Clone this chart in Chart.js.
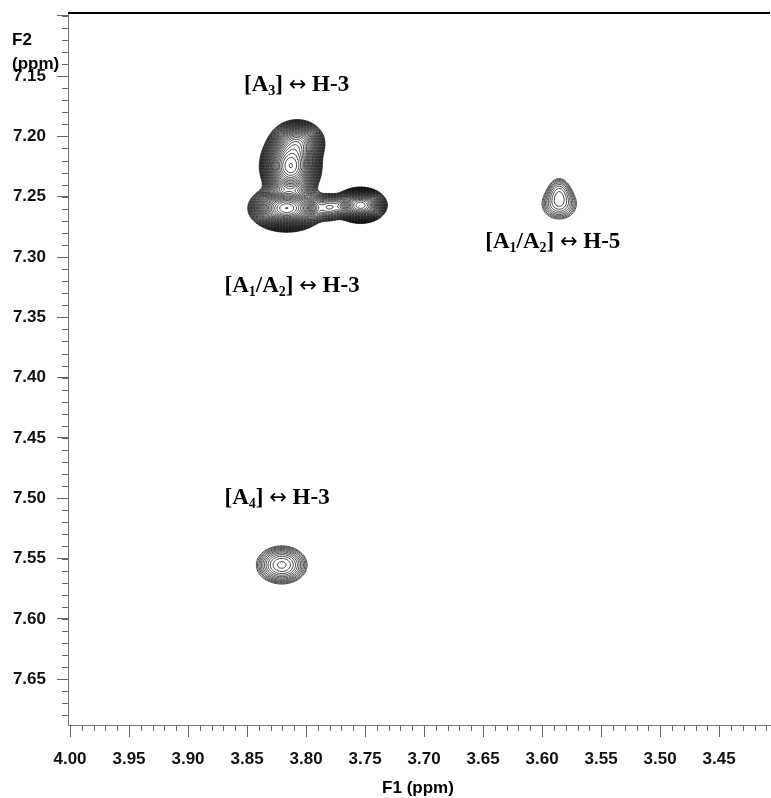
<!DOCTYPE html>
<html>
<head>
<meta charset="utf-8">
<script src="https://cdn.jsdelivr.net/npm/chart.js@4.4.1/dist/chart.umd.min.js"></script>
<style>
  html, body { margin: 0; padding: 0; background: #fff; }
  #wrap { width: 771px; height: 798px; position: relative; }
</style>
</head>
<body>
<div id="wrap"><canvas id="noesy" width="771" height="798"></canvas></div>
<script>
// axis ranges (ppm), both axes run backwards like the spectrometer plot
const f1Range = [3.4069, 4.0017];
const f2Range = [7.0977, 7.688];

// labelled (major) ticks
const f1MajorTicks = [4.00, 3.95, 3.90, 3.85, 3.80, 3.75, 3.70, 3.65, 3.60, 3.55, 3.50, 3.45];
const f2MajorTicks = [7.10, 7.15, 7.20, 7.25, 7.30, 7.35, 7.40, 7.45, 7.50, 7.55, 7.60, 7.65];
const minorStep = 0.01;

// cross peaks (centre in ppm, height, widths in ppm)
const peakF1      = [3.8130, 3.8071, 3.8164, 3.7538, 3.7800, 3.5855, 3.5855, 3.8206];
const peakF2      = [7.2247, 7.2049, 7.2596, 7.2571, 7.2588, 7.2563, 7.2430, 7.5553];
const peakHeight  = [1.00,   0.40,   1.00,   0.60,   0.10,   0.05,   0.03,   0.08];
const peakWidthF1 = [0.0095, 0.0093, 0.0118, 0.0087, 0.0068, 0.0106, 0.0065, 0.0129];
const peakWidthF2 = [0.0108, 0.0076, 0.0071, 0.0058, 0.0060, 0.0090, 0.0075, 0.0095];

// contour levels: lowest level and ratio between neighbours
const contourBase = 0.02;
const contourRatio = 1.13;
const contourCount = 36;

// annotations ("_n" = subscript), anchored in ppm (centre, baseline)
const noteText = ['[A_3] \u2194 H-3', '[A_1/A_2] \u2194 H-3', '[A_1/A_2] \u2194 H-5', '[A_4] \u2194 H-3'];
const noteF1 = [3.808, 3.8118, 3.5909, 3.8245];
const noteF2 = [7.1625, 7.3294, 7.2929, 7.5050];

const sansBold = 'bold 17px "Liberation Sans", Arial, sans-serif';

function levelList() {
    const out = [];
    let l = contourBase;
    for (let k = 0; k < contourCount; k++) { out.push(l); l *= contourRatio; }
    return out;
}

function drawContours(chart) {
    const { ctx, chartArea: a, scales } = chart;
    const xs = scales.x, ys = scales.y;
    const step = 1.5;
    const nx = Math.ceil((a.right - a.left) / step) + 1;
    const ny = Math.ceil((a.bottom - a.top) / step) + 1;
    const vx = new Float64Array(nx), vy = new Float64Array(ny);
    for (let i = 0; i < nx; i++) vx[i] = xs.getValueForPixel(a.left + i * step);
    for (let j = 0; j < ny; j++) vy[j] = ys.getValueForPixel(a.top + j * step);

    const f = new Float64Array(nx * ny);
    for (let j = 0; j < ny; j++) {
        for (let i = 0; i < nx; i++) {
            let s = 0;
            for (let p = 0; p < peakF1.length; p++) {
                const dx = (vx[i] - peakF1[p]) / peakWidthF1[p];
                const dy = (vy[j] - peakF2[p]) / peakWidthF2[p];
                const e = 0.5 * (dx * dx + dy * dy);
                if (e < 30) s += peakHeight[p] * Math.exp(-e);
            }
            f[j * nx + i] = s;
        }
    }

    ctx.save();
    ctx.beginPath();
    ctx.rect(a.left, a.top, a.right - a.left, a.bottom - a.top);
    ctx.clip();
    ctx.strokeStyle = '#000';
    ctx.lineWidth = 0.7;

    levelList().forEach(L => {
        ctx.beginPath();
        for (let j = 0; j < ny - 1; j++) {
            const y = a.top + j * step;
            for (let i = 0; i < nx - 1; i++) {
                const tl = f[j * nx + i], tr = f[j * nx + i + 1];
                const bl = f[(j + 1) * nx + i], br = f[(j + 1) * nx + i + 1];
                const idx = (tl > L ? 8 : 0) | (tr > L ? 4 : 0) | (br > L ? 2 : 0) | (bl > L ? 1 : 0);
                if (idx === 0 || idx === 15) continue;
                const x = a.left + i * step;
                const T = () => [x + step * (L - tl) / (tr - tl), y];
                const R = () => [x + step, y + step * (L - tr) / (br - tr)];
                const B = () => [x + step * (L - bl) / (br - bl), y + step];
                const Lf = () => [x, y + step * (L - tl) / (bl - tl)];
                const seg = (p, q) => { ctx.moveTo(p[0], p[1]); ctx.lineTo(q[0], q[1]); };
                switch (idx) {
                    case 1: case 14: seg(Lf(), B()); break;
                    case 2: case 13: seg(B(), R()); break;
                    case 3: case 12: seg(Lf(), R()); break;
                    case 4: case 11: seg(T(), R()); break;
                    case 6: case 9: seg(T(), B()); break;
                    case 7: case 8: seg(Lf(), T()); break;
                    case 5: seg(Lf(), T()); seg(B(), R()); break;
                    case 10: seg(T(), R()); seg(Lf(), B()); break;
                }
            }
        }
        ctx.stroke();
    });
    ctx.restore();
}

function drawNote(ctx, text, cx, baseline) {
    const size = 23;
    const main = `bold ${size}px "Liberation Serif", "Times New Roman", serif`;
    const sub = `bold ${Math.round(size * 0.62)}px "Liberation Serif", "Times New Roman", serif`;
    const arrow = `${size - 2}px "DejaVu Sans", sans-serif`;
    const parts = [];
    text.split(/(_\d|\u2194)/).forEach(t => {
        if (!t) return;
        if (t[0] === '_') parts.push({ t: t.slice(1), font: sub, dy: 4 });
        else if (t === '\u2194') parts.push({ t, font: arrow, dy: 0 });
        else parts.push({ t, font: main, dy: 0 });
    });
    let total = 0;
    parts.forEach(p => { ctx.font = p.font; p.w = ctx.measureText(p.t).width; total += p.w; });
    let x = cx - total / 2;
    ctx.fillStyle = '#000';
    ctx.textAlign = 'left';
    ctx.textBaseline = 'alphabetic';
    parts.forEach(p => {
        ctx.font = p.font;
        ctx.fillText(p.t, x, baseline + p.dy);
        x += p.w;
    });
}

const spectrumPlugin = {
    id: 'spectrum',
    beforeDatasetsDraw(chart) {
        drawContours(chart);
    },
    afterDraw(chart) {
        const { ctx, chartArea: a, scales } = chart;
        const xs = scales.x, ys = scales.y;
        ctx.save();
        // frame line on top
        ctx.strokeStyle = '#000';
        ctx.lineWidth = 2;
        ctx.beginPath();
        ctx.moveTo(a.left, a.top);
        ctx.lineTo(a.right, a.top);
        ctx.stroke();

        // minor ticks
        ctx.strokeStyle = '#666';
        ctx.lineWidth = 1;
        ctx.beginPath();
        for (let v = Math.ceil(f1Range[0] / minorStep) * minorStep; v <= f1Range[1] + 1e-9; v += minorStep) {
            const px = Math.round(xs.getPixelForValue(v)) + 0.5;
            ctx.moveTo(px, a.bottom);
            ctx.lineTo(px, a.bottom + 6);
        }
        for (let v = Math.ceil(f2Range[0] / minorStep) * minorStep; v <= f2Range[1] + 1e-9; v += minorStep) {
            const py = Math.round(ys.getPixelForValue(v)) + 0.5;
            ctx.moveTo(a.left, py);
            ctx.lineTo(a.left - 6, py);
        }
        ctx.stroke();

        // axis titles
        ctx.fillStyle = '#000';
        ctx.font = sansBold;
        ctx.textAlign = 'left';
        ctx.textBaseline = 'middle';
        ctx.fillText('F2', 12, 40);
        ctx.fillText('(ppm)', 12, 64);
        ctx.textAlign = 'center';
        ctx.fillText('F1 (ppm)', 418, 788);

        // peak annotations
        noteText.forEach((t, k) => {
            drawNote(ctx, t, xs.getPixelForValue(noteF1[k]), ys.getPixelForValue(noteF2[k]));
        });
        ctx.restore();
    }
};

new Chart(document.getElementById('noesy'), {
    type: 'scatter',
    data: {
        datasets: [{
            label: 'cross peaks',
            data: peakF1.map((v, k) => ({ x: v, y: peakF2[k] })),
            pointRadius: 0,
            showLine: false
        }]
    },
    options: {
        responsive: false,
        animation: false,
        devicePixelRatio: 1,
        layout: { padding: { top: 13, right: 1, left: 0, bottom: 0 } },
        plugins: { legend: { display: false }, tooltip: { enabled: false }, title: { display: false } },
        scales: {
            x: {
                type: 'linear',
                position: 'bottom',
                reverse: true,
                min: f1Range[0],
                max: f1Range[1],
                afterBuildTicks: s => { s.ticks = f1MajorTicks.map(v => ({ value: v })); },
                afterFit: s => { s.height = 73; s.paddingLeft = 0; s.paddingRight = 0; },
                ticks: {
                    autoSkip: false,
                    maxRotation: 0,
                    padding: 12,
                    color: '#111',
                    font: { family: '"Liberation Sans", Arial, sans-serif', size: 17, weight: 'bold' },
                    callback: v => Number(v).toFixed(2)
                },
                grid: { drawOnChartArea: false, drawTicks: true, tickLength: 12, color: '#666', tickWidth: 1 },
                border: { display: true, color: '#777', width: 1 }
            },
            y: {
                type: 'linear',
                position: 'left',
                reverse: true,
                min: f2Range[0],
                max: f2Range[1],
                afterBuildTicks: s => { s.ticks = f2MajorTicks.map(v => ({ value: v })); },
                afterFit: s => { s.width = 68; s.paddingTop = 0; s.paddingBottom = 0; },
                ticks: {
                    autoSkip: false,
                    padding: 11,
                    color: '#111',
                    font: { family: '"Liberation Sans", Arial, sans-serif', size: 17, weight: 'bold' },
                    callback: v => (Math.abs(v - 7.10) < 1e-6 ? '' : Number(v).toFixed(2))
                },
                grid: { drawOnChartArea: false, drawTicks: true, tickLength: 11, color: '#666', tickWidth: 1 },
                border: { display: true, color: '#777', width: 1 }
            }
        }
    },
    plugins: [spectrumPlugin]
});
</script>
</body>
</html>
